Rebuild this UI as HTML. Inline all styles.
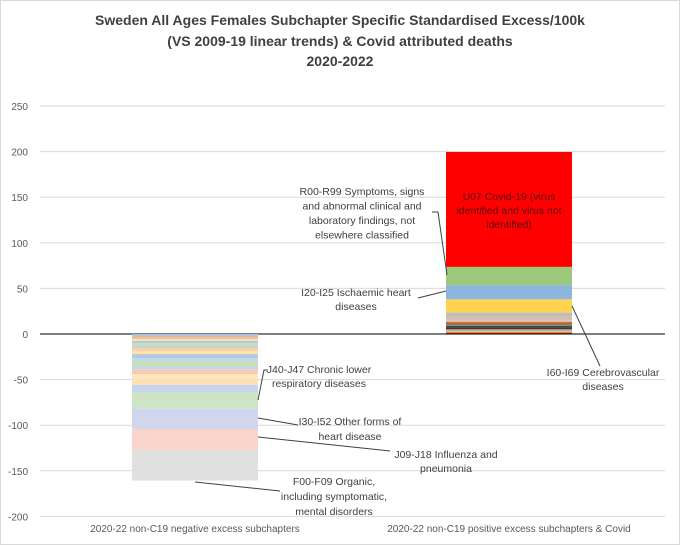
<!DOCTYPE html>
<html><head><meta charset="utf-8"><style>
body{margin:0;background:#fff}
svg{display:block;font-family:"Liberation Sans",Arial,sans-serif}
</style></head><body>
<svg id="c" width="680" height="545">
<rect x="0.5" y="0.5" width="679" height="544" fill="#fff" stroke="#d9d9d9"/>
<g font-weight="bold" font-size="14" fill="#404040" text-anchor="middle">
<text x="340" y="25">Sweden All Ages Females Subchapter Specific Standardised Excess/100k</text>
<text x="340" y="46">(VS 2009-19 linear trends) &amp; Covid attributed deaths</text>
<text x="340" y="66">2020-2022</text>
</g>
<g id="grid"></g><g id="bars"></g><g id="ann"></g>
</svg>
<script>
const ticks=[250,200,150,100,50,0,-50,-100,-150,-200];
const categories=["2020-22 non-C19 negative excess subchapters","2020-22 non-C19 positive excess subchapters & Covid"];
const negValues=[-2,-2,-1.5,-2,-2.5,-2.5,-3,-3,-3.5,-4.5,-3,-6.2,-3.6,-4.7,-4.4,-7.3,-8.4,-18,-22,-23,-33.6];
const negColors=["#9dc3e6","#f4b183","#c9c9c9","#ffe699","#b4c7e7","#c5e0b4","#d0cece","#f8cbad","#ffe699","#b4c7e7","#bdd7ee","#c5e0b4","#cdd3ea","#f8cbad","#fde6c0","#ffe0b2","#c5d5ee","#cfe3c5","#cfd6ee","#f8d4cb","#e0e0e0"];
const posValues=[1.5,1,1.5,1.5,2,1.5,2,2,1.5,2,2,5,14.6,15.5,20,126];
const posColors=["#7b1010","#ffc000","#9dc3e6","#ed7d31","#1f3864","#375623","#808080","#c55a11","#f4b183","#b4c7e7","#f4b183","#bfbfbf","#ffd34f","#8cb6e0","#9bc87a","#ff0000"];
const y0=334,sc=0.912,Y=v=>y0-v*sc;
const svg=document.getElementById('c'),NS="http://www.w3.org/2000/svg";
function mk(t,a,p){const e=document.createElementNS(NS,t);for(const k in a)e.setAttribute(k,a[k]);(p||svg).appendChild(e);return e;}
const grid=document.getElementById('grid'),bars=document.getElementById('bars'),ann=document.getElementById('ann');
ticks.forEach(t=>{
 const l=mk('line',{x1:40,x2:665,y1:Y(t),y2:Y(t),stroke:t===0?'#7f7f7f':'#d9d9d9','stroke-width':t===0?2:1},grid);
 
 
 const tx=mk('text',{x:28,y:Y(t)+4,'text-anchor':'end','font-size':10,fill:'#595959'},grid);
 tx.textContent=t;
 
 
});
function stack(vals,cols,x,w,name){let acc=0;vals.forEach((v,i)=>{const a=Y(acc),b=Y(acc+v);acc+=v;
 const r=mk('rect',{x:x,y:Math.min(a,b),width:w,height:Math.abs(a-b),fill:cols[i%cols.length]},bars);
 
 });}
stack(negValues,negColors,132,126,'negative');
stack(posValues,posColors,446,126,'positive');
[[195,categories[0]],[509,categories[1]]].forEach(([x,s])=>{const t=mk('text',{x:x,y:532,'text-anchor':'middle','font-size':10,fill:'#595959'},ann);t.textContent=s;
 
 });
const labels=[
 [362,[191,205.5,220,234.5],["R00-R99 Symptoms, signs","and abnormal clinical and","laboratory findings, not","elsewhere classified"],'#404040',"M432,212 L438,212 L447,275"],
 [509,[196,210,224],["U07 Covid-19 (virus","identified and virus not","identified)"],'#5a0a0a',null],
 [356,[292,306],["I20-I25 Ischaemic heart","diseases"],'#404040',"M418,298 L446,291"],
 [603,[372,386],["I60-I69 Cerebrovascular","diseases"],'#404040',"M572,306 L600,366"],
 [319,[369,383],["J40-J47 Chronic lower","respiratory diseases"],'#404040',"M258,400 L264,370 L268,370"],
 [350,[421,436],["I30-I52 Other forms of","heart disease"],'#404040',"M258,418 L298,425"],
 [446,[454,468],["J09-J18 Influenza and","pneumonia"],'#404040',"M258,437 L390,451"],
 [334,[481,496,511],["F00-F09 Organic,","including symptomatic,","mental disorders"],'#404040',"M195,482 L280,491"]];
labels.forEach(([x,ys,ls,col,path])=>{
 ls.forEach((s,i)=>{const t=mk('text',{x:x,y:ys[i]+4,'text-anchor':'middle','font-size':10.5,fill:col},ann);t.textContent=s;
  
  });
 if(path){const p=mk('path',{d:path,stroke:'#404040','stroke-width':1,fill:'none'},ann);
  
  }
});
</script>
</body></html>
